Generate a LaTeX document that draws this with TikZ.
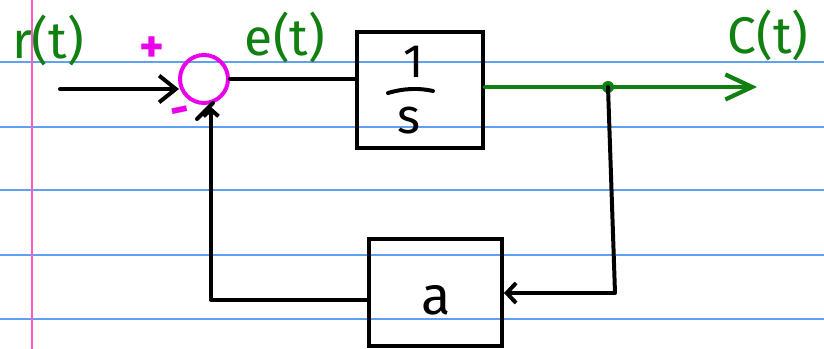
\documentclass[tikz,border=0pt]{standalone}
\usepackage{fontspec}
\setmainfont{Fira Sans}
\usetikzlibrary{arrows.meta}
\definecolor{ink}{RGB}{0,0,0}
\definecolor{pgreen}{RGB}{16,128,16}
\definecolor{pmag}{RGB}{235,0,235}
\definecolor{ruleblue}{RGB}{95,160,240}
\definecolor{marginpink}{RGB}{255,90,200}
\tikzset{
  wire/.style={draw=ink, line width=3.4pt, line cap=round, line join=round},
  gwire/.style={draw=pgreen, line width=3.6pt, line cap=round},
  blockbox/.style={draw=ink, line width=3.4pt, minimum width=3.78cm, minimum height=3.48cm, inner sep=0pt},
  lab/.style={text=pgreen, font=\fontsize{44}{44}\selectfont, inner sep=0pt},
  sign/.style={text=pmag, font=\fontsize{40}{40}\selectfont\bfseries, inner sep=0pt},
  bigbarb/.style={-{Straight Barb[length=0.5cm,width=0.8cm,line width=3.4pt]}},
}
\begin{document}
\begin{tikzpicture}[x=0.03cm,y=-0.03cm]
\useasboundingbox (0,0) rectangle (824,349);
\fill[white] (0,0) rectangle (824,349);
% notebook rules
\foreach \yy in {62,127,190,255,319}
  \draw[ruleblue, line width=1.1pt] (0,\yy) -- (824,\yy);
\draw[marginpink, line width=1.4pt] (32,0) -- (32,349);
% nodes
\node[circle, draw=pmag, line width=3.4pt, minimum size=1.44cm, inner sep=0pt] (sum) at (204,79) {};
\node[blockbox] (b1) at (420,90) {};
\node[blockbox, minimum width=3.99cm, minimum height=3.21cm] (bG) at (435.5,292.5) {};
\node[text=ink, font=\fontsize{40}{40}\selectfont, inner sep=0pt] (one) at (414,62) {1};
\node[text=ink, font=\fontsize{42}{42}\selectfont, inner sep=0pt] (ess) at (409,121) {s};
\node[text=ink, font=\fontsize{46}{46}\selectfont, inner sep=0pt] (alab) at (436,300) {a};
\node[lab] (rt) at (48,40) {r(t)};
\node[lab] (et) at (285,37) {e(t)};
\node[lab] (ct) at (768,35) {C(t)};
\node[sign] (plus) at (152,50) {+};
\node[sign, rotate=12] (minus) at (181,116) {-};
% coordinates
\coordinate (in) at (60,89);
\coordinate (inend) at (179,89);
\coordinate (tap) at (608,87);
\coordinate (out) at (757,87);
\coordinate (fbc) at (615,293);
\coordinate (fbl) at (211,300);
\coordinate (up) at (211,107);
\coordinate (sl1) at (197,119);
\coordinate (sl2) at (213,103);
\coordinate (fb1) at (388,93);
\coordinate (fb2) at (433,91);
% fraction bar
\draw[wire] (fb1) .. controls (405,88) and (420,88) .. (fb2);
% connectors
\draw[wire, bigbarb] (in) -- (inend);
\draw[wire] (sum.east) -- (sum.east -| b1.west);
\draw[gwire] (tap -| b1.east) -- (tap);
\draw[gwire, -{Straight Barb[length=0.8cm,width=0.75cm,line width=3.6pt]}] (tap) -- (out);
\fill[pgreen] (tap) circle (0.18cm);
\draw[wire, -{Straight Barb[length=0.28cm,width=0.6cm,line width=3.4pt]}] (tap) -- (fbc) -- (fbc -| bG.east);
\draw[wire, -{Straight Barb[length=0.2cm,width=0.45cm,line width=3.4pt]}] (fbl -| bG.west) -- (fbl) -- (up);
\draw[wire] (sl1) -- (sl2);
\end{tikzpicture}
\end{document}
